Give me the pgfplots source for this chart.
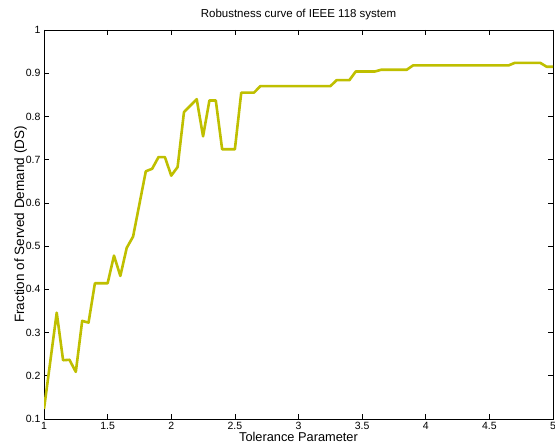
\documentclass[border=0pt]{standalone}
\usepackage{fontspec}
\setmainfont{Liberation Sans}
\usepackage{pgfplots}
\pgfplotsset{compat=1.18}
\definecolor{lc}{RGB}{191,191,0}
\begin{document}
\begin{tikzpicture}[x=1bp,y=1bp]
\begin{axis}[
  at={(0,0)}, anchor=south west,
  scale only axis, width=509bp, height=389bp,
  xmin=1, xmax=5, ymin=0.1, ymax=1,
  xtick={1,1.5,2,2.5,3,3.5,4,4.5,5},
  ytick={0.1,0.2,0.3,0.4,0.5,0.6,0.7,0.8,0.9,1},
  tick align=inside, major tick length=5bp,
  axis line style={line width=0.8bp},
  tick style={black, line width=0.6bp},
  ticklabel style={font=\fontsize{10.5bp}{12bp}\selectfont},
  xticklabel style={yshift=0bp},
  /pgf/number format/assume math mode=true,
  title={Robustness curve of IEEE 118 system},
  title style={font=\fontsize{11.5bp}{14bp}\selectfont, at={(axis description cs:0.5,1)}, anchor=base, yshift=7bp, inner sep=0pt},
  xlabel={Tolerance Parameter},
  xlabel style={font=\fontsize{12.8bp}{15bp}\selectfont, at={(axis description cs:0.5,0)}, anchor=north, yshift=-13.3bp, inner sep=0pt},
  ylabel={Fraction of Served Demand (DS)},
  ylabel style={font=\fontsize{13.5bp}{15bp}\selectfont, at={(axis description cs:-0.0334,0.5)}, anchor=south, inner sep=0pt},
]
\addplot[color=lc, line width=2.6bp, line join=round, mark=none] coordinates {
(1.00,0.123) (1.10,0.346) (1.15,0.236) (1.20,0.237) (1.25,0.209)
(1.30,0.327) (1.35,0.323) (1.40,0.414) (1.50,0.414) (1.55,0.478)
(1.60,0.431) (1.65,0.496) (1.70,0.522) (1.80,0.673) (1.85,0.679)
(1.90,0.706) (1.95,0.706) (2.00,0.663) (2.05,0.683) (2.10,0.810)
(2.20,0.840) (2.25,0.754) (2.30,0.837) (2.35,0.837) (2.40,0.724)
(2.50,0.724) (2.55,0.855) (2.65,0.855) (2.70,0.870) (3.25,0.870)
(3.30,0.884) (3.40,0.884) (3.45,0.904) (3.60,0.904) (3.65,0.908)
(3.85,0.908) (3.90,0.918) (4.65,0.918) (4.70,0.924) (4.90,0.924)
(4.95,0.915) (5.00,0.915)
};
\end{axis}
\pgfresetboundingbox
\path[use as bounding box] (-44bp,-26bp) rectangle (511bp,419bp);
\end{tikzpicture}
\end{document}
